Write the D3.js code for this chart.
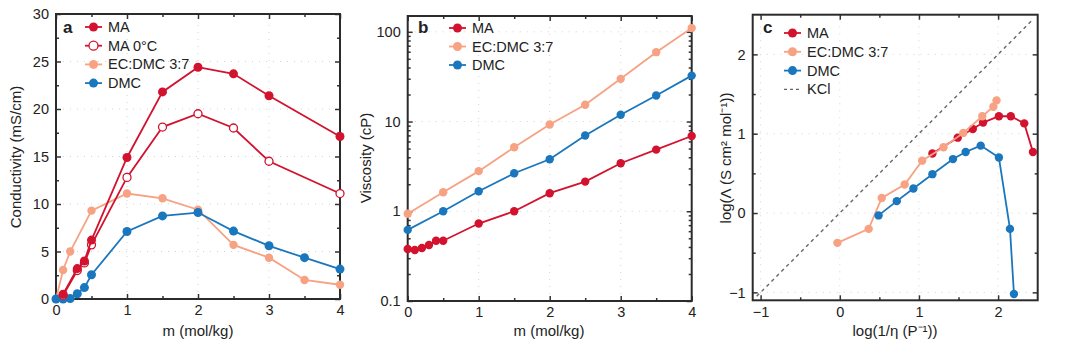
<!DOCTYPE html>
<html>
<head>
<meta charset="utf-8">
<script src="https://cdn.jsdelivr.net/npm/d3@7"></script>
<style>
  body { margin: 0; background: #fff; }
  svg text { font-family: "Liberation Sans", Arial, sans-serif; fill: #222; }
</style>
</head>
<body>
<svg id="chart" width="1080" height="342"></svg>
<script>
// panel a - conductivity vs molality
var mMA = [0.1, 0.3, 0.4, 0.5, 1, 1.5, 2, 2.5, 3, 4];
var condMA = [0.5, 3.2, 4.0, 6.2, 14.9, 21.8, 24.4, 23.7, 21.4, 17.1];
var condMA0 = [0.4, 3.0, 3.8, 5.7, 12.8, 18.1, 19.5, 18.0, 14.5, 11.1];
var mEC = [0, 0.1, 0.2, 0.5, 1, 1.5, 2, 2.5, 3, 3.5, 4];
var condEC = [0, 3.05, 5.0, 9.3, 11.1, 10.6, 9.4, 5.7, 4.35, 2.0, 1.5];
var mDMC = [0, 0.1, 0.2, 0.3, 0.4, 0.5, 1, 1.5, 2, 2.5, 3, 3.5, 4];
var condDMC = [0, 0, 0.05, 0.55, 1.2, 2.55, 7.1, 8.75, 9.1, 7.15, 5.6, 4.35, 3.15];

// panel b - viscosity (log)
var mVisMA = [0, 0.1, 0.2, 0.3, 0.4, 0.5, 1, 1.5, 2, 2.5, 3, 3.5, 4];
var visMA = [0.38, 0.37, 0.39, 0.42, 0.47, 0.47, 0.73, 1.0, 1.59, 2.14, 3.43, 4.86, 6.9];
var mVis = [0, 0.5, 1, 1.5, 2, 2.5, 3, 3.5, 4];
var visEC = [0.94, 1.63, 2.8, 5.16, 9.25, 15.4, 29.9, 59.3, 110];
var visDMC = [0.62, 1.0, 1.67, 2.65, 3.8, 7.0, 11.9, 19.5, 32.5];

// panel c - Walden plot
var fluMA = [1.17, 1.49, 1.68, 1.81, 2.01, 2.16, 2.33, 2.44];
var lamMA = [0.75, 0.95, 1.06, 1.14, 1.22, 1.22, 1.13, 0.77];
var fluEC = [-0.03, 0.365, 0.53, 0.82, 1.04, 1.31, 1.56, 1.80, 1.94, 1.98];
var lamEC = [-0.376, -0.2, 0.19, 0.36, 0.66, 0.83, 1.01, 1.22, 1.34, 1.42];
var fluDMC = [0.49, 0.72, 0.93, 1.17, 1.43, 1.59, 1.78, 2.01, 2.15, 2.20];
var lamDMC = [-0.03, 0.15, 0.31, 0.49, 0.68, 0.77, 0.85, 0.70, -0.20, -1.02];
var kclLine = [-1.05, 2.42];

var RED = "#d2122e", ORANGE = "#f6a283", BLUE = "#1b77bd";

var svg = d3.select("#chart");

function zip(xs, ys){
    return xs.map(function(x, i){ return [x, ys[i]]; });
}

// draws frame, inward ticks on all four sides, dotted grid and labels
function frame(x, y, xMajor, xMinor, yMajor, yMinor, xFmt, yFmt){
    var g = svg.append("g");
    var x0 = x.range()[0], x1 = x.range()[1];
    var y0 = y.range()[0], y1 = y.range()[1];
    g.selectAll(".gx").data(xMajor).enter().append("line")
        .attr("x1", function(d){ return x(d); }).attr("x2", function(d){ return x(d); })
        .attr("y1", y0).attr("y2", y1)
        .attr("stroke", "#d4d4d4").attr("stroke-dasharray", "1,6");
    g.selectAll(".gy").data(yMajor).enter().append("line")
        .attr("y1", function(d){ return y(d); }).attr("y2", function(d){ return y(d); })
        .attr("x1", x0).attr("x2", x1)
        .attr("stroke", "#d4d4d4").attr("stroke-dasharray", "1,6");

    var bottom = d3.axisBottom(x).tickValues(xMajor).tickSize(-5).tickPadding(6).tickFormat(xFmt);
    var top = d3.axisTop(x).tickValues(xMajor).tickSize(-5).tickFormat("");
    var left = d3.axisLeft(y).tickValues(yMajor).tickSize(-5).tickPadding(7).tickFormat(yFmt);
    var right = d3.axisRight(y).tickValues(yMajor).tickSize(-5).tickFormat("");
    var axes = [
        g.append("g").attr("transform", "translate(0," + y0 + ")").call(bottom),
        g.append("g").attr("transform", "translate(0," + y1 + ")").call(top),
        g.append("g").attr("transform", "translate(" + x0 + ",0)").call(left),
        g.append("g").attr("transform", "translate(" + x1 + ",0)").call(right),
        g.append("g").attr("transform", "translate(0," + y0 + ")").call(d3.axisBottom(x).tickValues(xMinor).tickSize(-3).tickFormat("")),
        g.append("g").attr("transform", "translate(0," + y1 + ")").call(d3.axisTop(x).tickValues(xMinor).tickSize(-3).tickFormat("")),
        g.append("g").attr("transform", "translate(" + x0 + ",0)").call(d3.axisLeft(y).tickValues(yMinor).tickSize(-3).tickFormat("")),
        g.append("g").attr("transform", "translate(" + x1 + ",0)").call(d3.axisRight(y).tickValues(yMinor).tickSize(-3).tickFormat(""))
    ];
    axes.forEach(function(a){
        a.select(".domain").remove();
        a.selectAll("line").attr("stroke", "#333").attr("stroke-width", 1.5);
        a.selectAll("text").attr("font-size", 14.5).attr("fill", "#222");
    });
    g.append("rect")
        .attr("x", x0).attr("y", y1)
        .attr("width", x1 - x0).attr("height", y0 - y1)
        .attr("fill", "none").attr("stroke", "#2b2b2b").attr("stroke-width", 2);
    return g;
}

function series(x, y, pts, color, open, r){
    var g = svg.append("g");
    g.append("path")
        .datum(pts)
        .attr("d", d3.line().x(function(d){ return x(d[0]); }).y(function(d){ return y(d[1]); }))
        .attr("fill", "none").attr("stroke", color).attr("stroke-width", 1.8);
    g.selectAll("circle").data(pts).enter().append("circle")
        .attr("cx", function(d){ return x(d[0]); })
        .attr("cy", function(d){ return y(d[1]); })
        .attr("r", r)
        .attr("fill", open ? "#fff" : color)
        .attr("stroke", color).attr("stroke-width", open ? 1.3 : 0);
}

function legend(x0, yStart, step, items){
    items.forEach(function(it, i){
        var yy = yStart + i * step;
        var line = svg.append("line")
            .attr("x1", x0).attr("x2", x0 + 17)
            .attr("y1", yy).attr("y2", yy)
            .attr("stroke", it.color).attr("stroke-width", 1.8);
        if(it.dash){
            line.attr("stroke-dasharray", "3,3").attr("stroke-width", 1.4);
        } else {
            svg.append("circle")
                .attr("cx", x0 + 8.5).attr("cy", yy).attr("r", 4.5)
                .attr("fill", it.open ? "#fff" : it.color)
                .attr("stroke", it.color).attr("stroke-width", it.open ? 1.3 : 0);
        }
        svg.append("text")
            .attr("x", x0 + 23).attr("y", yy + 5)
            .attr("font-size", 14.5)
            .text(it.name);
    });
}

function letter(x, y, s){
    svg.append("text").attr("x", x).attr("y", y)
        .attr("font-size", 17).attr("font-weight", "bold").text(s);
}

function ylabel(x, y, s){
    svg.append("text")
        .attr("transform", "translate(" + x + "," + y + ") rotate(-90)")
        .attr("text-anchor", "middle").attr("font-size", 15)
        .text(s);
}

function xlabel(x, y, s){
    svg.append("text").attr("x", x).attr("y", y)
        .attr("text-anchor", "middle").attr("font-size", 15)
        .text(s);
}

// ---- a ----
var xa = d3.scaleLinear().domain([0, 4]).range([56, 340]);
var ya = d3.scaleLinear().domain([0, 30]).range([299, 14]);
frame(xa, ya, [0, 1, 2, 3, 4], [0.5, 1.5, 2.5, 3.5], [0, 5, 10, 15, 20, 25, 30],
      [2.5, 7.5, 12.5, 17.5, 22.5, 27.5], d3.format("d"), d3.format("d"));
series(xa, ya, zip(mEC, condEC), ORANGE, false, 4.2);
series(xa, ya, zip(mDMC, condDMC), BLUE, false, 4.5);
series(xa, ya, zip(mMA, condMA0), RED, true, 4);
series(xa, ya, zip(mMA, condMA), RED, false, 4.5);
letter(63, 33, "a");
legend(85, 27, 18.7, [
    {name: "MA", color: RED},
    {name: "MA 0°C", color: RED, open: true},
    {name: "EC:DMC 3:7", color: ORANGE},
    {name: "DMC", color: BLUE}
]);
ylabel(21, 157, "Conductivity (mS/cm)");
xlabel(198, 336, "m (mol/kg)");

// ---- b ----
var xb = d3.scaleLinear().domain([0, 4]).range([407.7, 691.7]);
var yb = d3.scaleLog().domain([0.1, 150]).range([301, 16]);
var logMinor = [];
[0.1, 1, 10, 100].forEach(function(d){
    for(var k = 2; k <= 9; k++){ if(d * k < 150) logMinor.push(d * k); }
});
frame(xb, yb, [0, 1, 2, 3, 4], [0.5, 1.5, 2.5, 3.5], [0.1, 1, 10, 100], logMinor,
      d3.format("d"), function(d){ return d < 1 ? "0.1" : d3.format("d")(d); });
series(xb, yb, zip(mVis, visEC), ORANGE, false, 4.2);
series(xb, yb, zip(mVis, visDMC), BLUE, false, 4.2);
series(xb, yb, zip(mVisMA, visMA), RED, false, 4.2);
letter(418, 33, "b");
legend(449, 28, 18.5, [
    {name: "MA", color: RED},
    {name: "EC:DMC 3:7", color: ORANGE},
    {name: "DMC", color: BLUE}
]);
ylabel(371, 158, "Viscosity (cP)");
xlabel(549, 336, "m (mol/kg)");

// ---- c ----
var xc = d3.scaleLinear().domain([-1.1, 2.5]).range([752.7, 1037.7]);
var yc = d3.scaleLinear().domain([-1.1, 2.5]).range([300.3, 14.7]);
frame(xc, yc, [-1, 0, 1, 2], [-0.5, 0.5, 1.5], [-1, 0, 1, 2], [-0.5, 0.5, 1.5],
      d3.format("d"), d3.format("d"));
svg.append("line")
    .attr("x1", xc(kclLine[0])).attr("y1", yc(kclLine[0]))
    .attr("x2", xc(kclLine[1])).attr("y2", yc(kclLine[1]))
    .attr("stroke", "#666").attr("stroke-width", 1.4).attr("stroke-dasharray", "3.5,3.5");
series(xc, yc, zip(fluMA, lamMA), RED, false, 4.2);
series(xc, yc, zip(fluEC, lamEC), ORANGE, false, 4.2);
series(xc, yc, zip(fluDMC, lamDMC), BLUE, false, 4.2);
letter(763, 33, "c");
legend(784, 33, 18.8, [
    {name: "MA", color: RED},
    {name: "EC:DMC 3:7", color: ORANGE},
    {name: "DMC", color: BLUE},
    {name: "KCl", color: "#666", dash: true}
]);
ylabel(731, 158, "log(Λ (S cm² mol⁻¹))");
xlabel(895, 336, "log(1/η (P⁻¹))");
</script>
</body>
</html>
